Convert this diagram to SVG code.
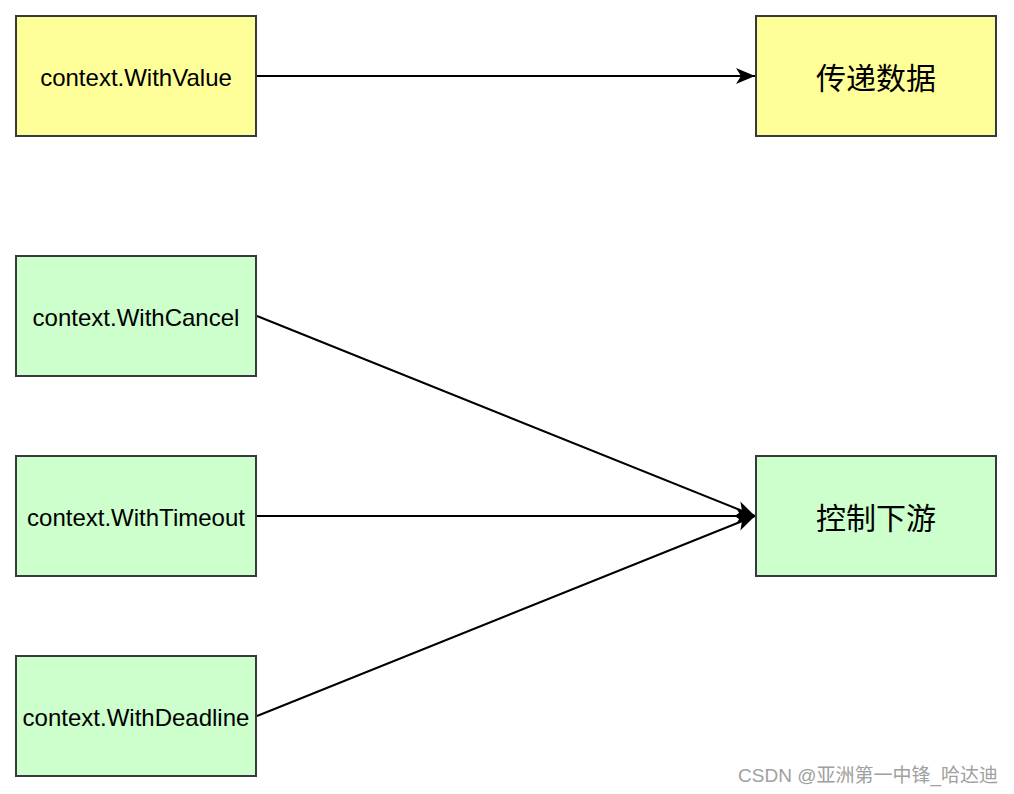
<svg xmlns="http://www.w3.org/2000/svg" width="1014" height="794" viewBox="0 0 1014 794">
<style>
.y{fill:#ffff99;stroke:#36393d;stroke-width:2}
.g{fill:#ccffcc;stroke:#36393d;stroke-width:2}
.t{font-family:"Liberation Sans",Arial,sans-serif;font-size:24px;fill:#000;text-anchor:middle;dominant-baseline:central}
.c{font-family:"Noto Sans CJK SC",sans-serif;font-size:30px;fill:#000;text-anchor:middle;dominant-baseline:central}
.e{fill:none;stroke:#000;stroke-width:2}
.w{font-family:"Liberation Sans","Noto Sans CJK SC",sans-serif;font-size:19px;fill:#a0a0a0;text-anchor:end}
</style>
<defs>
<marker id="a" markerUnits="userSpaceOnUse" markerWidth="22" markerHeight="20" viewBox="0 0 22 20" refX="20" refY="10" orient="auto">
<path d="M20,10 L1,2 L6,10 L1,18 Z" fill="#000"/>
</marker>
</defs>
<rect width="1014" height="794" fill="#fff"/>
<g id="connectors">
<line class="e" x1="257" y1="76" x2="755" y2="76" marker-end="url(#a)"/>
<line class="e" x1="257" y1="316" x2="755" y2="516" marker-end="url(#a)"/>
<line class="e" x1="257" y1="516" x2="755" y2="516" marker-end="url(#a)"/>
<line class="e" x1="257" y1="716" x2="755" y2="516" marker-end="url(#a)"/>
</g>
<g id="withvalue"><rect class="y" x="16" y="16" width="240" height="120"/><text class="t" x="136" y="77">context.WithValue</text></g>
<g id="data"><rect class="y" x="756" y="16" width="240" height="120"/><text class="c" x="876" y="76">传递数据</text></g>
<g id="withcancel"><rect class="g" x="16" y="256" width="240" height="120"/><text class="t" x="136" y="317">context.WithCancel</text></g>
<g id="withtimeout"><rect class="g" x="16" y="456" width="240" height="120"/><text class="t" x="136" y="517">context.WithTimeout</text></g>
<g id="withdeadline"><rect class="g" x="16" y="656" width="240" height="120"/><text class="t" x="136" y="717">context.WithDeadline</text></g>
<g id="control"><rect class="g" x="756" y="456" width="240" height="120"/><text class="c" x="876" y="516">控制下游</text></g>
<text class="w" x="998" y="782">CSDN @亚洲第一中锋_哈达迪</text>
</svg>
